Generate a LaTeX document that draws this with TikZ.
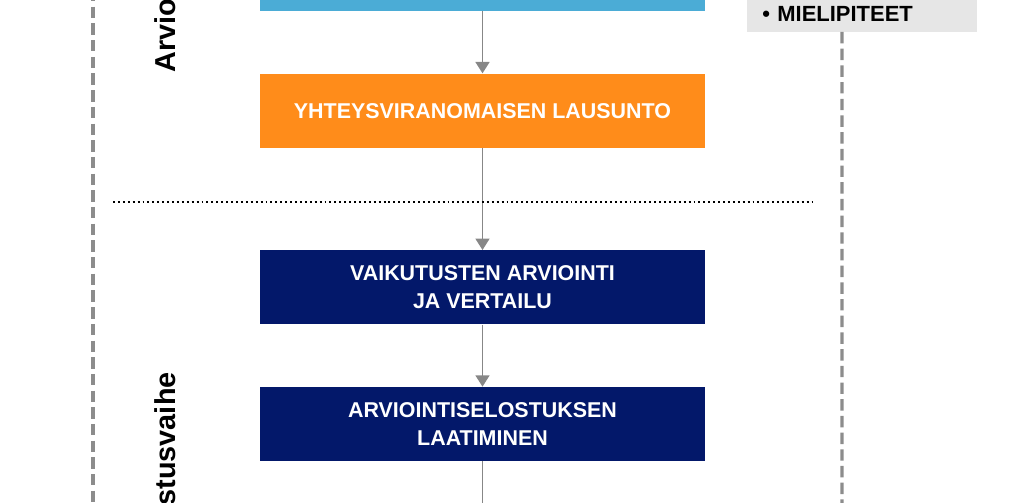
\documentclass[tikz,border=0pt]{standalone}
\usepackage{fontspec}
\setmainfont{Liberation Sans}
\usepackage{tikz}
\usetikzlibrary{positioning,arrows.meta}

\definecolor{evablue}{RGB}{75,172,214}
\definecolor{evaorange}{RGB}{255,140,26}
\definecolor{evanavy}{RGB}{3,24,106}
\definecolor{opiniongray}{RGB}{230,230,230}
\definecolor{flowgray}{RGB}{135,135,135}
\definecolor{phasegray}{RGB}{140,140,140}

\begin{document}
\begin{tikzpicture}[x=0.02cm,y=-0.02cm,node distance=1.24cm,
	stagebox/.style={minimum width=8.9cm, minimum height=1.48cm, inner sep=0pt, align=center, text=white, font=\fontsize{12.2}{16}\selectfont\bfseries},
	flow/.style={draw=flowgray, line width=0.9pt, -{Triangle[width=8pt,length=6.5pt]}},
	phaseline/.style={draw=phasegray, line width=1.8pt, dash pattern=on 6.5pt off 3pt},
	phaselabel/.style={rotate=90, inner sep=0pt, font=\fontsize{16.4}{20}\selectfont\bfseries}]
	
	\useasboundingbox (0,0) rectangle (1024,503);
	
	\node[stagebox, fill=evablue] (plan) at (482.5,-26) {};
	\node[stagebox, fill=evaorange, below=of plan] (statement) {YHTEYSVIRANOMAISEN LAUSUNTO};
	\node[stagebox, fill=evanavy, below=2.04cm of statement] (impacts) {VAIKUTUSTEN ARVIOINTI\\JA VERTAILU};
	\node[stagebox, fill=evanavy, below=of impacts] (report) {ARVIOINTISELOSTUKSEN\\LAATIMINEN};
	\coordinate (reportend) at (482.5,515);
	
	\node[anchor=south west, fill=opiniongray, text width=4cm, inner xsep=0.3cm, inner ysep=0.2cm, text height=1cm, text depth=0pt, align=left, font=\fontsize{12.5}{15}\selectfont\bfseries] (opinions) at (747,32) {\textbullet\ MIELIPITEET};
	\coordinate (opinionsfoot) at ([xshift=1.9cm]opinions.south west);
	\coordinate (opinionsend) at (842,515);
	
	\node[phaselabel, anchor=base west] (assessplan) at (175,73) {Arvio};
	\node[phaselabel, anchor=base east] (assessreport) at (175,372) {stusvaihe};
	
	\draw[flow] (plan) -- (statement);
	\draw[flow] (statement) -- (impacts);
	\draw[flow] (impacts) -- (report);
	\draw[draw=flowgray, line width=0.9pt] (report) -- (reportend);
	
	\draw[phaseline] (93,-10) -- (93,515);
	\draw[phaseline] (opinionsfoot) -- (opinionsend);
	\draw[line width=1.1pt, dash pattern=on 1.1pt off 1.7pt] (113,202) -- (812,202);
	
\end{tikzpicture}
\end{document}
